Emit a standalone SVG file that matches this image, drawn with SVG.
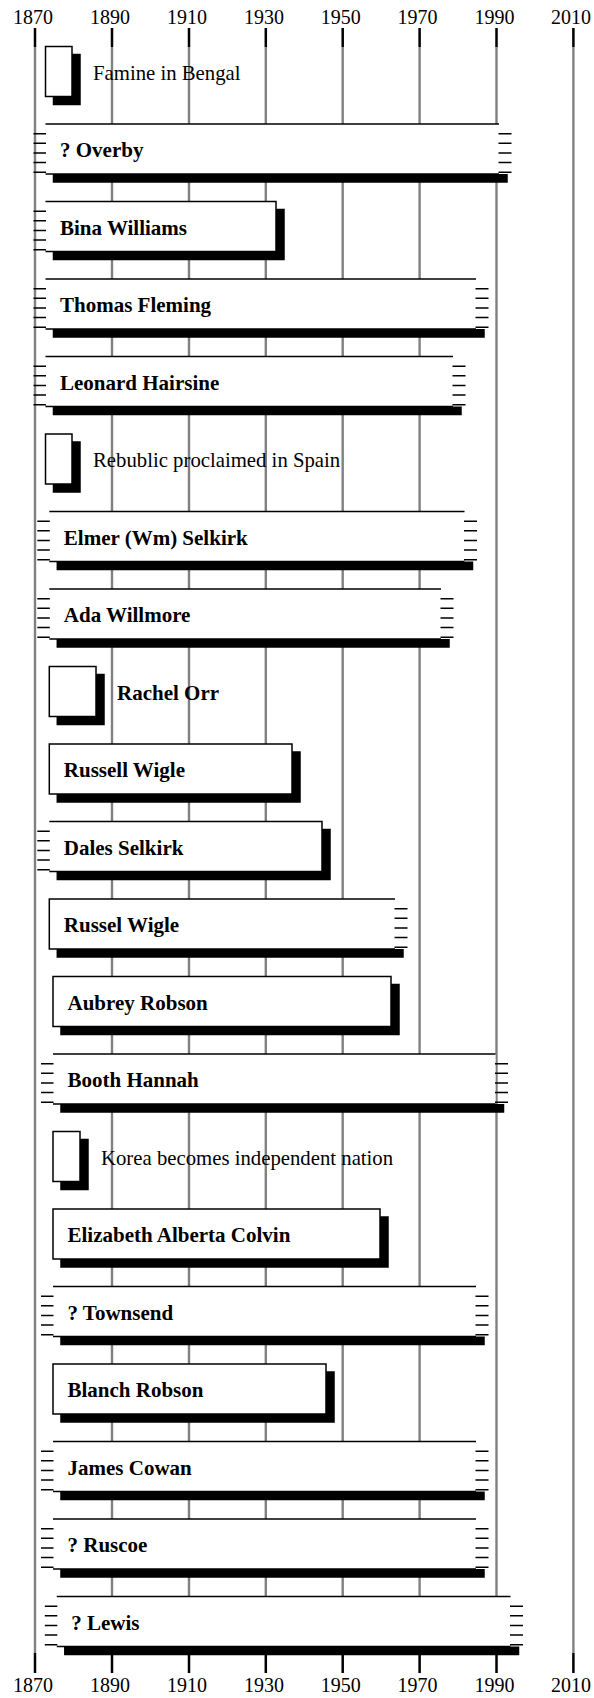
<svg xmlns="http://www.w3.org/2000/svg" width="594" height="1698" viewBox="0 0 594 1698">
<style>
.grid{stroke:#808080;stroke-width:2.4}
.tk{stroke:#000;stroke-width:2.5}
.yr{font-family:"Liberation Serif","Times New Roman",serif;font-size:20px;text-anchor:middle;fill:#000}
.sh{fill:#000}
.bx{fill:#fff;stroke:#000;stroke-width:1.5}
.wf{fill:#fff}
.ln{stroke:#000;stroke-width:1.5;fill:none}
.nm{font-family:"Liberation Serif","Times New Roman",serif;font-size:21px;font-weight:bold;fill:#000}
.ev{font-family:"Liberation Serif","Times New Roman",serif;font-size:20.75px;fill:#000}
</style>
<rect width="594" height="1698" fill="#fff"/>
<g id="axis">
<g class="grid">
<line x1="35" y1="47" x2="35" y2="1653"/>
<line x1="112" y1="47" x2="112" y2="1653"/>
<line x1="189" y1="47" x2="189" y2="1653"/>
<line x1="265.8" y1="47" x2="265.8" y2="1653"/>
<line x1="342.7" y1="47" x2="342.7" y2="1653"/>
<line x1="419.6" y1="47" x2="419.6" y2="1653"/>
<line x1="496.5" y1="47" x2="496.5" y2="1653"/>
<line x1="573.4" y1="47" x2="573.4" y2="1653"/>
</g>
<path class="tk" d="M35 28V47M112 28V47M189 28V47M265.8 28V47M342.7 28V47M419.6 28V47M496.5 28V47M573.4 28V47M35 1653V1673M112 1653V1673M189 1653V1673M265.8 1653V1673M342.7 1653V1673M419.6 1653V1673M496.5 1653V1673M573.4 1653V1673"/>
<g class="yr">
<text x="33" y="23.5">1870</text><text x="110" y="23.5">1890</text><text x="187" y="23.5">1910</text><text x="264" y="23.5">1930</text><text x="340.7" y="23.5">1950</text><text x="417.6" y="23.5">1970</text><text x="494.5" y="23.5">1990</text><text x="571" y="23.5">2010</text>
<text x="33" y="1691.5">1870</text><text x="110" y="1691.5">1890</text><text x="187" y="1691.5">1910</text><text x="264" y="1691.5">1930</text><text x="340.7" y="1691.5">1950</text><text x="417.6" y="1691.5">1970</text><text x="494.5" y="1691.5">1990</text><text x="571" y="1691.5">2010</text>
</g>
</g>
<g id="connectors"></g>

<g id="famine">
<rect class="sh" x="52.75" y="53.75" width="28" height="51.5"/>
<rect class="bx" x="45.5" y="46.5" width="26.5" height="50"/>
<text class="ev" x="93" y="79.5">Famine in Bengal</text>
</g>

<g id="overby">
<rect class="sh" x="52.75" y="174" width="455" height="8.75"/>
<rect class="wf" x="45.5" y="124" width="453.5" height="50"/>
<path class="ln" d="M45.5 124H499M45.5 174H499M33.5 133.65H46M33.5 143.3H46M33.5 152.95H46M33.5 162.6H46M33.5 172.25H46M498.5 133.65H511.5M498.5 143.3H511.5M498.5 152.95H511.5M498.5 162.6H511.5M498.5 172.25H511.5"/>
<text class="nm" x="60" y="157">? Overby</text>
</g>

<g id="bina">
<rect class="sh" x="52.75" y="208.75" width="232" height="51.5"/>
<rect class="wf" x="45.5" y="201.5" width="230.5" height="50"/>
<path class="ln" d="M45.5 201.5H276V251.5H45.5M33.5 211.15H46M33.5 220.8H46M33.5 230.45H46M33.5 240.1H46M33.5 249.75H46"/>
<text class="nm" x="60" y="234.5">Bina Williams</text>
</g>

<g id="thomas">
<rect class="sh" x="52.75" y="329" width="432" height="8.75"/>
<rect class="wf" x="45.5" y="279" width="430.5" height="50"/>
<path class="ln" d="M45.5 279H476M45.5 329H476M33.5 288.65H46M33.5 298.3H46M33.5 307.95H46M33.5 317.6H46M33.5 327.25H46M475.5 288.65H488.5M475.5 298.3H488.5M475.5 307.95H488.5M475.5 317.6H488.5M475.5 327.25H488.5"/>
<text class="nm" x="60" y="312">Thomas Fleming</text>
</g>

<g id="leonard">
<rect class="sh" x="52.75" y="406.5" width="409" height="8.75"/>
<rect class="wf" x="45.5" y="356.5" width="407.5" height="50"/>
<path class="ln" d="M45.5 356.5H453M45.5 406.5H453M33.5 366.15H46M33.5 375.8H46M33.5 385.45H46M33.5 395.1H46M33.5 404.75H46M452.5 366.15H465.5M452.5 375.8H465.5M452.5 385.45H465.5M452.5 395.1H465.5M452.5 404.75H465.5"/>
<text class="nm" x="60" y="389.5">Leonard Hairsine</text>
</g>

<g id="rebublic">
<rect class="sh" x="52.75" y="441.25" width="28" height="51.5"/>
<rect class="bx" x="45.5" y="434" width="26.5" height="50"/>
<text class="ev" x="93" y="467">Rebublic proclaimed in Spain</text>
</g>

<g id="elmer">
<rect class="sh" x="56.55" y="561.5" width="416.7" height="8.75"/>
<rect class="wf" x="49.3" y="511.5" width="415.2" height="50"/>
<path class="ln" d="M49.3 511.5H464.5M49.3 561.5H464.5M37.3 521.15H49.8M37.3 530.8H49.8M37.3 540.45H49.8M37.3 550.1H49.8M37.3 559.75H49.8M464 521.15H477M464 530.8H477M464 540.45H477M464 550.1H477M464 559.75H477"/>
<text class="nm" x="63.8" y="544.5">Elmer (Wm) Selkirk</text>
</g>

<g id="ada">
<rect class="sh" x="56.55" y="639" width="393.2" height="8.75"/>
<rect class="wf" x="49.3" y="589" width="391.7" height="50"/>
<path class="ln" d="M49.3 589H441M49.3 639H441M37.3 598.65H49.8M37.3 608.3H49.8M37.3 617.95H49.8M37.3 627.6H49.8M37.3 637.25H49.8M440.5 598.65H453.5M440.5 608.3H453.5M440.5 617.95H453.5M440.5 627.6H453.5M440.5 637.25H453.5"/>
<text class="nm" x="63.8" y="622">Ada Willmore</text>
</g>

<g id="rachel">
<rect class="sh" x="56.55" y="673.75" width="48.2" height="51.5"/>
<rect class="bx" x="49.3" y="666.5" width="46.7" height="50"/>
<text class="nm" x="117" y="699.5">Rachel Orr</text>
</g>

<g id="russell">
<rect class="sh" x="56.55" y="751.25" width="244.2" height="51.5"/>
<rect class="bx" x="49.3" y="744" width="242.7" height="50"/>
<text class="nm" x="63.8" y="777">Russell Wigle</text>
</g>

<g id="dales">
<rect class="sh" x="56.55" y="828.75" width="274.2" height="51.5"/>
<rect class="wf" x="49.3" y="821.5" width="272.7" height="50"/>
<path class="ln" d="M49.3 821.5H322V871.5H49.3M37.3 831.15H49.8M37.3 840.8H49.8M37.3 850.45H49.8M37.3 860.1H49.8M37.3 869.75H49.8"/>
<text class="nm" x="63.8" y="854.5">Dales Selkirk</text>
</g>

<g id="russel">
<rect class="sh" x="56.55" y="949" width="347.2" height="8.75"/>
<rect class="wf" x="49.3" y="899" width="345.7" height="50"/>
<path class="ln" d="M395 899H49.3V949H395M394.5 908.65H407.5M394.5 918.3H407.5M394.5 927.95H407.5M394.5 937.6H407.5M394.5 947.25H407.5"/>
<text class="nm" x="63.8" y="932">Russel Wigle</text>
</g>

<g id="aubrey">
<rect class="sh" x="60.25" y="983.75" width="339.5" height="51.5"/>
<rect class="bx" x="53" y="976.5" width="338" height="50"/>
<text class="nm" x="67.5" y="1009.5">Aubrey Robson</text>
</g>

<g id="booth">
<rect class="sh" x="60.25" y="1104" width="444" height="8.75"/>
<rect class="wf" x="53" y="1054" width="442.5" height="50"/>
<path class="ln" d="M53 1054H495.5M53 1104H495.5M41 1063.65H53.5M41 1073.3H53.5M41 1082.95H53.5M41 1092.6H53.5M41 1102.25H53.5M495 1063.65H508M495 1073.3H508M495 1082.95H508M495 1092.6H508M495 1102.25H508"/>
<text class="nm" x="67.5" y="1087">Booth Hannah</text>
</g>

<g id="korea">
<rect class="sh" x="60.25" y="1138.75" width="28.5" height="51.5"/>
<rect class="bx" x="53" y="1131.5" width="27" height="50"/>
<text class="ev" x="101" y="1164.5">Korea becomes independent nation</text>
</g>

<g id="elizabeth">
<rect class="sh" x="60.25" y="1216.25" width="328.5" height="51.5"/>
<rect class="bx" x="53" y="1209" width="327" height="50"/>
<text class="nm" x="67.5" y="1242">Elizabeth Alberta Colvin</text>
</g>

<g id="townsend">
<rect class="sh" x="60.25" y="1336.5" width="424.5" height="8.75"/>
<rect class="wf" x="53" y="1286.5" width="423" height="50"/>
<path class="ln" d="M53 1286.5H476M53 1336.5H476M41 1296.15H53.5M41 1305.8H53.5M41 1315.45H53.5M41 1325.1H53.5M41 1334.75H53.5M475.5 1296.15H488.5M475.5 1305.8H488.5M475.5 1315.45H488.5M475.5 1325.1H488.5M475.5 1334.75H488.5"/>
<text class="nm" x="67.5" y="1319.5">? Townsend</text>
</g>

<g id="blanch">
<rect class="sh" x="60.25" y="1371.25" width="274.5" height="51.5"/>
<rect class="bx" x="53" y="1364" width="273" height="50"/>
<text class="nm" x="67.5" y="1397">Blanch Robson</text>
</g>

<g id="james">
<rect class="sh" x="60.25" y="1491.5" width="424.5" height="8.75"/>
<rect class="wf" x="53" y="1441.5" width="423" height="50"/>
<path class="ln" d="M53 1441.5H476M53 1491.5H476M41 1451.15H53.5M41 1460.8H53.5M41 1470.45H53.5M41 1480.1H53.5M41 1489.75H53.5M475.5 1451.15H488.5M475.5 1460.8H488.5M475.5 1470.45H488.5M475.5 1480.1H488.5M475.5 1489.75H488.5"/>
<text class="nm" x="67.5" y="1474.5">James Cowan</text>
</g>

<g id="ruscoe">
<rect class="sh" x="60.25" y="1569" width="424.5" height="8.75"/>
<rect class="wf" x="53" y="1519" width="423" height="50"/>
<path class="ln" d="M53 1519H476M53 1569H476M41 1528.65H53.5M41 1538.3H53.5M41 1547.95H53.5M41 1557.6H53.5M41 1567.25H53.5M475.5 1528.65H488.5M475.5 1538.3H488.5M475.5 1547.95H488.5M475.5 1557.6H488.5M475.5 1567.25H488.5"/>
<text class="nm" x="67.5" y="1552">? Ruscoe</text>
</g>

<g id="lewis">
<rect class="sh" x="64.05" y="1646.5" width="455.2" height="8.75"/>
<rect class="wf" x="56.8" y="1596.5" width="453.7" height="50"/>
<path class="ln" d="M56.8 1596.5H510.5M56.8 1646.5H510.5M44.8 1606.15H57.3M44.8 1615.8H57.3M44.8 1625.45H57.3M44.8 1635.1H57.3M44.8 1644.75H57.3M510 1606.15H523M510 1615.8H523M510 1625.45H523M510 1635.1H523M510 1644.75H523"/>
<text class="nm" x="71.3" y="1629.5">? Lewis</text>
</g>
</svg>
